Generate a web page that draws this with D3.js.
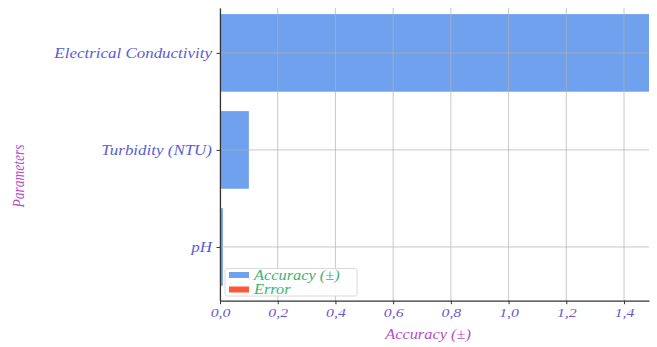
<!DOCTYPE html>
<html><head><meta charset="utf-8">
<script src="https://cdn.jsdelivr.net/npm/d3@7"></script>
<style>
body{margin:0;background:#fff;}
text{font-family:"Liberation Serif","DejaVu Serif",serif;font-style:italic;}
</style></head>
<body><svg id="c" width="657" height="347"></svg>
<script>
const categories = ["pH", "Turbidity (NTU)", "Electrical Conductivity"];
const accuracy = [0.01, 0.1, 1.5];
const xTicks = [0, 0.2, 0.4, 0.6, 0.8, 1.0, 1.2, 1.4];
const legendLabels = ["Accuracy (±)", "Error"];

const svg = d3.select("#c");
const pL = 220, pR = 649, pT = 8, pB = 300.7;
const sx = 1.17; // horizontal stretch of text in the reference
const x = d3.scaleLinear().domain([0, 1.4866]).range([pL, pR]);
const y = d3.scaleLinear().domain([-0.554, 2.463]).range([pB, pT]);
const barH = 0.8;

svg.append("defs").append("clipPath").attr("id","clip")
  .append("rect").attr("x",pL).attr("y",pT).attr("width",pR-pL).attr("height",pB-pT);

const g = svg.append("g").attr("clip-path","url(#clip)");
g.selectAll("rect.bar").data(categories).join("rect")
  .attr("class","bar")
  .attr("x", x(0))
  .attr("y", (d,i)=>y(i+barH/2))
  .attr("width", (d,i)=>x(accuracy[i])-x(0))
  .attr("height", (d,i)=>y(i-barH/2)-y(i+barH/2))
  .attr("fill","#6fa1ee");

// grid
const grid = svg.append("g");
xTicks.forEach(t=>{
  grid.append("line").attr("x1",x(t)).attr("x2",x(t)).attr("y1",pT).attr("y2",pB)
    .attr("stroke","#b0b0b0").attr("stroke-opacity",0.7).attr("stroke-width",1);
});
categories.forEach((c,i)=>{
  grid.append("line").attr("x1",pL).attr("x2",pR).attr("y1",y(i)).attr("y2",y(i))
    .attr("stroke","#b0b0b0").attr("stroke-opacity",0.7).attr("stroke-width",1);
});

// axes
const fmt = d=>d3.format(".1f")(d).replace(".",",");
const xAxis = svg.append("g").attr("transform",`translate(0,${pB})`)
  .call(d3.axisBottom(x).tickValues(xTicks).tickFormat(fmt).tickSize(3.5).tickSizeOuter(0));
xAxis.select(".domain").attr("stroke","#333").attr("stroke-width",1.2);
xAxis.selectAll(".tick line").attr("stroke","#333");
xAxis.selectAll("text").attr("fill","#6a5acd").attr("font-size",13.5)
  .attr("transform",`scale(${sx},1)`)
  .style("font-family","'Liberation Serif',serif").style("font-style","italic");

const yAxis = svg.append("g").attr("transform",`translate(${pL},0)`)
  .call(d3.axisLeft(y)
    .tickValues(categories.map((c,i)=>i)).tickFormat(i=>categories[i]).tickSize(3.5).tickSizeOuter(0));
yAxis.select(".domain").attr("stroke","#333").attr("stroke-width",1.2);
yAxis.selectAll(".tick line").attr("stroke","#333");
yAxis.selectAll("text").attr("fill","#5b5bd6").attr("font-size",14.5).attr("x",0)
  .attr("transform",`translate(-8,0) scale(${sx},1)`)
  .style("font-family","'Liberation Serif',serif").style("font-style","italic");

// axis titles
svg.append("text").attr("transform",`translate(428,339) scale(${sx},1)`).attr("text-anchor","middle")
  .attr("fill","#b44fc4").attr("font-size",14).text("Accuracy (±)");
svg.append("text").attr("transform",`translate(24,176) scale(${sx},1) rotate(-90)`).attr("text-anchor","middle")
  .attr("fill","#b44fc4").attr("font-size",13.5).text("Parameters");

// legend
const lg = svg.append("g");
lg.append("rect").attr("x",225).attr("y",268.5).attr("width",132).attr("height",27.5).attr("rx",2)
  .attr("fill","#fff").attr("fill-opacity",0.85).attr("stroke","#d0d0d0").attr("stroke-width",0.8);
const lcol = ["#6fa1ee","#f9583a"];
legendLabels.forEach((l,i)=>{
  const cy = 275 + i*14.5;
  lg.append("rect").attr("x",229).attr("y",cy-3).attr("width",20).attr("height",6).attr("fill",lcol[i]);
  lg.append("text").attr("transform",`translate(254,${cy+4.5}) scale(${sx},1)`)
    .attr("fill","#3cb371").attr("font-size",14).text(l);
});
</script></body></html>
